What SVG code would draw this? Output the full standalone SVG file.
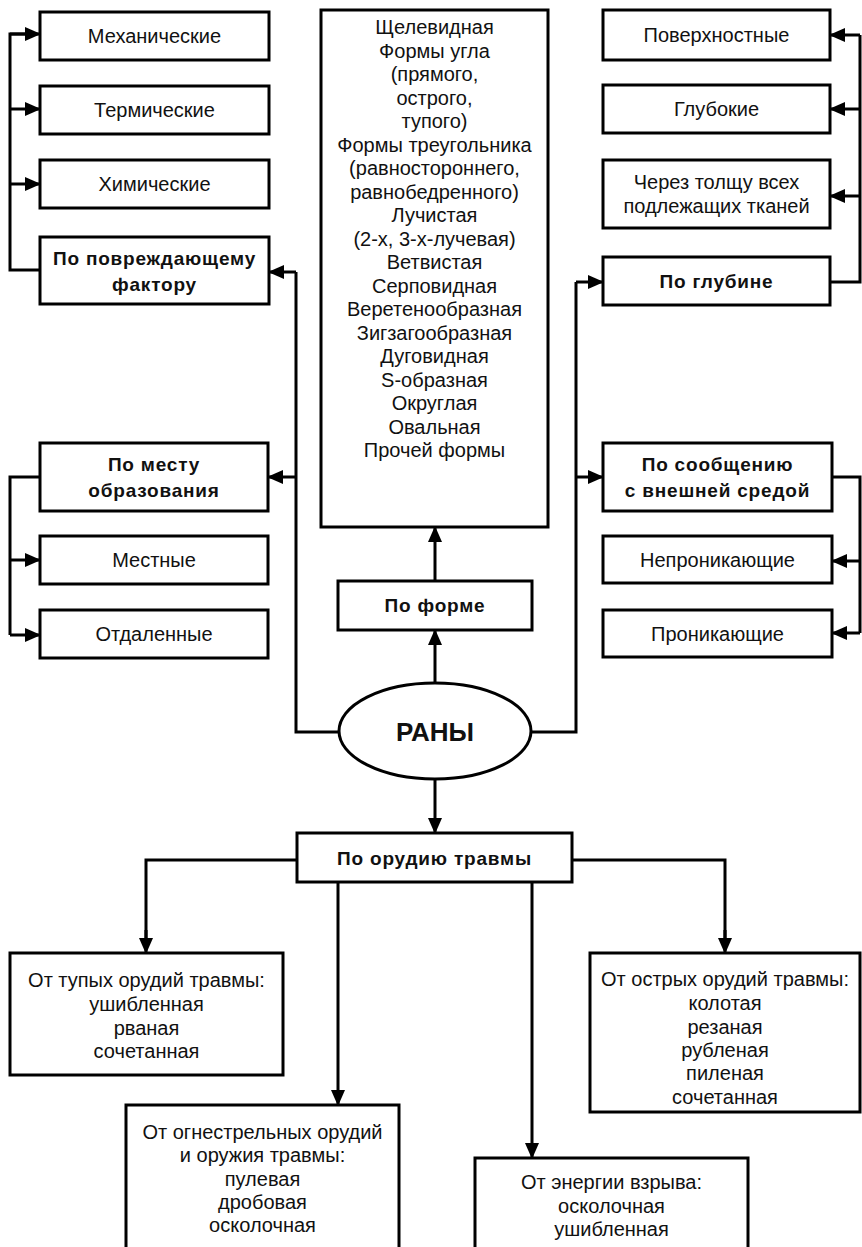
<svg xmlns="http://www.w3.org/2000/svg" width="862" height="1247" viewBox="0 0 862 1247">
  <defs>
    <marker id="arrow" viewBox="0 0 16 14" refX="15" refY="7" markerWidth="16" markerHeight="14" markerUnits="userSpaceOnUse" orient="auto">
      <path d="M0,0 L16,7 L0,14 Z" fill="#000"/>
    </marker>
    <style>
      rect, ellipse { fill: #fff; stroke: #000; stroke-width: 3; }
      .ln { fill: none; stroke: #000; stroke-width: 3; }
      .ar { fill: none; stroke: #000; stroke-width: 3; marker-end: url(#arrow); }
      text { font-family: "Liberation Sans", Arial, sans-serif; font-size: 20px; fill: #111; text-anchor: middle; dominant-baseline: central; }
      .b { font-weight: bold; font-size: 19px; letter-spacing: 0.8px; }
      .big { font-weight: bold; font-size: 26px; }
    </style>
  </defs>

  <!-- connectors -->
  <g id="connectors">
    <!-- by damaging factor -->
    <path class="ln" d="M40,270 H10 V34 H26"/>
    <path class="ar" d="M10,34 H40"/>
    <path class="ar" d="M10,109 H40"/>
    <path class="ar" d="M10,184 H40"/>
    <!-- left trunk from the ellipse -->
    <path class="ln" d="M339,732 H296 V272"/>
    <path class="ar" d="M296,272 H269"/>
    <path class="ar" d="M296,477 H268"/>
    <!-- by place of formation -->
    <path class="ln" d="M40,477 H10 V635"/>
    <path class="ar" d="M10,560 H40"/>
    <path class="ar" d="M10,635 H40"/>
    <!-- right trunk from the ellipse -->
    <path class="ln" d="M531,732 H576 V282"/>
    <path class="ar" d="M576,282 H603"/>
    <path class="ar" d="M576,477 H603"/>
    <!-- by depth -->
    <path class="ln" d="M830,282 H860 V35"/>
    <path class="ar" d="M860,35 H830"/>
    <path class="ar" d="M860,109 H830"/>
    <path class="ar" d="M860,196 H830"/>
    <!-- by communication with environment -->
    <path class="ln" d="M832,477 H860 V633"/>
    <path class="ar" d="M860,561 H832"/>
    <path class="ar" d="M860,633 H832"/>
    <!-- by shape -->
    <path class="ar" d="M435,683 V630"/>
    <path class="ar" d="M435,581 V527"/>
    <!-- by injuring instrument -->
    <path class="ar" d="M435,779 V833"/>
    <path class="ln" d="M297,860 H146 V940"/>
    <path class="ar" d="M146,930 V953"/>
    <path class="ar" d="M338,882 V1105"/>
    <path class="ar" d="M532,882 V1158"/>
    <path class="ln" d="M572,860 H725 V940"/>
    <path class="ar" d="M725,930 V953"/>
  </g>

  <!-- left column -->
  <g id="mechanical"><rect x="40" y="12" width="229" height="48"/><text x="154.5" y="36">Механические</text></g>
  <g id="thermal"><rect x="40" y="86" width="229" height="48"/><text x="154.5" y="110">Термические</text></g>
  <g id="chemical"><rect x="40" y="160" width="229" height="48"/><text x="154.5" y="184">Химические</text></g>
  <g id="by-factor"><rect x="40" y="237" width="229" height="67"/><text class="b" x="154.5" y="258">По повреждающему</text><text class="b" x="154.5" y="284">фактору</text></g>
  <g id="by-place"><rect x="40" y="443" width="228" height="68"/><text class="b" x="154" y="464">По месту</text><text class="b" x="154" y="490">образования</text></g>
  <g id="local"><rect x="40" y="536" width="228" height="48"/><text x="154" y="560">Местные</text></g>
  <g id="remote"><rect x="40" y="610" width="228" height="48"/><text x="154" y="634">Отдаленные</text></g>

  <!-- right column -->
  <g id="superficial"><rect x="603" y="10" width="227" height="50"/><text x="716.5" y="35">Поверхностные</text></g>
  <g id="deep"><rect x="603" y="85" width="227" height="48"/><text x="716.5" y="109">Глубокие</text></g>
  <g id="through"><rect x="603" y="160" width="227" height="68"/><text x="716.5" y="182">Через толщу всех</text><text x="716.5" y="206">подлежащих тканей</text></g>
  <g id="by-depth"><rect x="603" y="257" width="227" height="48"/><text class="b" x="716.5" y="281">По глубине</text></g>
  <g id="by-communication"><rect x="603" y="443" width="229" height="68"/><text class="b" x="717.5" y="464">По сообщению</text><text class="b" x="717.5" y="490">с внешней средой</text></g>
  <g id="non-penetrating"><rect x="603" y="536" width="229" height="47"/><text x="717.5" y="560">Непроникающие</text></g>
  <g id="penetrating"><rect x="603" y="610" width="229" height="47"/><text x="717.5" y="634">Проникающие</text></g>

  <!-- shapes list -->
  <g id="shapes">
    <rect x="321" y="10" width="227" height="517"/>
    <text x="434.5" y="27">Щелевидная</text>
    <text x="434.5" y="50.5">Формы угла</text>
    <text x="434.5" y="74">(прямого,</text>
    <text x="434.5" y="97.5">острого,</text>
    <text x="434.5" y="121">тупого)</text>
    <text x="434.5" y="144.5">Формы треугольника</text>
    <text x="434.5" y="168">(равностороннего,</text>
    <text x="434.5" y="191.5">равнобедренного)</text>
    <text x="434.5" y="215">Лучистая</text>
    <text x="434.5" y="238.5">(2-х, 3-х-лучевая)</text>
    <text x="434.5" y="262">Ветвистая</text>
    <text x="434.5" y="285.5">Серповидная</text>
    <text x="434.5" y="309">Веретенообразная</text>
    <text x="434.5" y="332.5">Зигзагообразная</text>
    <text x="434.5" y="356">Дуговидная</text>
    <text x="434.5" y="379.5">S-образная</text>
    <text x="434.5" y="403">Округлая</text>
    <text x="434.5" y="426.5">Овальная</text>
    <text x="434.5" y="450">Прочей формы</text>
  </g>
  <g id="by-shape"><rect x="338" y="581" width="194" height="49"/><text class="b" x="435" y="605">По форме</text></g>

  <!-- root -->
  <g id="wounds"><ellipse cx="435" cy="731" rx="96" ry="48"/><text class="big" x="435" y="732">РАНЫ</text></g>

  <!-- by instrument -->
  <g id="by-instrument"><rect x="297" y="833" width="275" height="49"/><text class="b" x="434.5" y="858">По орудию травмы</text></g>
  <g id="blunt">
    <rect x="10" y="953" width="273" height="122"/>
    <text x="146.5" y="980">От тупых орудий травмы:</text>
    <text x="146.5" y="1004">ушибленная</text>
    <text x="146.5" y="1028">рваная</text>
    <text x="146.5" y="1051">сочетанная</text>
  </g>
  <g id="firearm">
    <rect x="126" y="1105" width="273" height="160"/>
    <text x="262.5" y="1132">От огнестрельных орудий</text>
    <text x="262.5" y="1155">и оружия травмы:</text>
    <text x="262.5" y="1179">пулевая</text>
    <text x="262.5" y="1202">дробовая</text>
    <text x="262.5" y="1225">осколочная</text>
  </g>
  <g id="blast">
    <rect x="475" y="1158" width="273" height="110"/>
    <text x="611.5" y="1182">От энергии взрыва:</text>
    <text x="611.5" y="1206">осколочная</text>
    <text x="611.5" y="1229">ушибленная</text>
  </g>
  <g id="sharp">
    <rect x="590" y="953" width="270" height="159"/>
    <text x="725" y="979">От острых орудий травмы:</text>
    <text x="725" y="1003">колотая</text>
    <text x="725" y="1027">резаная</text>
    <text x="725" y="1050">рубленая</text>
    <text x="725" y="1073">пиленая</text>
    <text x="725" y="1097">сочетанная</text>
  </g>
</svg>
